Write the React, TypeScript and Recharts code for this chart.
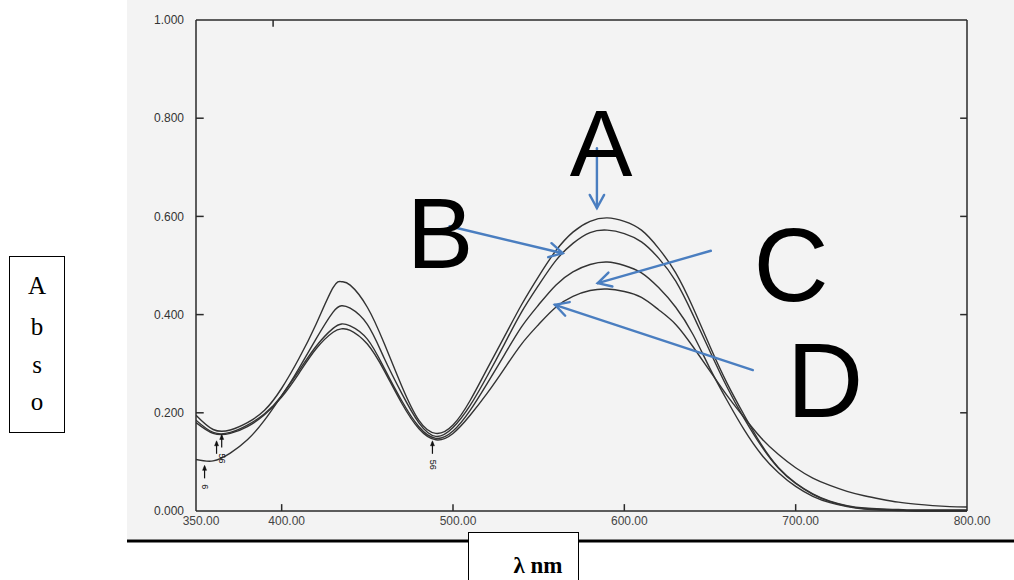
import React from 'react';
import { LineChart, Line, XAxis, YAxis, ReferenceLine } from 'recharts';

// wavelength (nm) and absorbance of the four spectra
const WAVELENGTH = [
  350, 360, 370, 380, 390, 400, 410, 420, 430, 435, 440, 450, 460, 470, 480, 490, 500, 510, 520, 530,
  540, 550, 560, 570, 580, 590, 600, 610, 620, 630, 640, 650, 660, 670, 680, 690, 700, 710, 720, 730,
  740, 750, 760, 770, 780, 790, 800,
];

const SERIES_A = [
  0.195, 0.166, 0.165, 0.18, 0.205, 0.25, 0.31, 0.38, 0.455, 0.467, 0.46, 0.415, 0.34, 0.255, 0.185, 0.158, 0.175, 0.225, 0.29, 0.355,
  0.42, 0.478, 0.53, 0.568, 0.59, 0.597, 0.59, 0.572, 0.535, 0.485, 0.415, 0.335, 0.26, 0.195, 0.135, 0.088, 0.057, 0.035, 0.02, 0.011,
  0.006, 0.004, 0.003, 0.002, 0.002, 0.002, 0.002,
];
const SERIES_B = [
  0.185, 0.16, 0.16, 0.175, 0.198, 0.235, 0.29, 0.35, 0.405, 0.418, 0.413, 0.38, 0.31, 0.24, 0.18, 0.152, 0.17, 0.215, 0.275, 0.34,
  0.405, 0.46, 0.51, 0.545, 0.567, 0.572, 0.565, 0.548, 0.515, 0.468, 0.4, 0.325, 0.252, 0.188, 0.132, 0.087, 0.056, 0.034, 0.019, 0.01,
  0.005, 0.003, 0.002, 0.001, 0.001, 0.001, 0.001,
];
const SERIES_C = [
  0.105, 0.102, 0.118, 0.145, 0.185, 0.235, 0.285, 0.335, 0.372, 0.381, 0.377, 0.35, 0.29, 0.225, 0.172, 0.148, 0.163, 0.205, 0.26, 0.318,
  0.375, 0.42, 0.46, 0.487, 0.502, 0.507, 0.5, 0.485, 0.455, 0.415, 0.36, 0.29, 0.225, 0.165, 0.115, 0.078, 0.05, 0.03, 0.017, 0.009,
  0.004, 0.002, 0.001, 0, 0, 0, 0,
];
const SERIES_D = [
  0.18, 0.158, 0.158, 0.172, 0.196, 0.232, 0.28, 0.33, 0.364, 0.371, 0.368, 0.34, 0.285, 0.22, 0.168, 0.145, 0.158, 0.195, 0.24, 0.29,
  0.34, 0.38, 0.415, 0.437, 0.449, 0.452, 0.447, 0.435, 0.41, 0.38, 0.335, 0.285, 0.235, 0.19, 0.148, 0.115, 0.088, 0.067, 0.052, 0.04,
  0.031, 0.024, 0.018, 0.014, 0.011, 0.009, 0.008,
];

const X_TICKS = [350, 400, 500, 600, 700, 800];
const Y_TICKS = [0, 0.2, 0.4, 0.6, 0.8, 1.0];

// blue annotation arrows, [from, to] in (nm, absorbance)
const ARROWS = [
  { name: 'A', from: [584, 0.739], to: [584, 0.617] },
  { name: 'B', from: [498, 0.58], to: [564, 0.525] },
  { name: 'C', from: [650.5, 0.53], to: [584.5, 0.464] },
  { name: 'D', from: [675, 0.287], to: [559.5, 0.42] },
];

// little instrument peak-pick marks near the minima: [nm, absorbance, label]
const PICKS: [number, number, string][] = [
  [355, 0.095, '6'],
  [362, 0.145, ''],
  [365, 0.158, '56'],
  [488, 0.145, '56'],
];

const data = WAVELENGTH.map((wl, i) => ({
  wl,
  a: SERIES_A[i],
  b: SERIES_B[i],
  c: SERIES_C[i],
  d: SERIES_D[i],
}));

const BLUE = '#4a7ec0';
const INK = '#2a2a2a';
const FONT = 'Liberation Sans, Arial, sans-serif';

function Arrow(props: any) {
  const { x1, y1, x2, y2 } = props;
  const ang = Math.atan2(y2 - y1, x2 - x1);
  const len = 15;
  const spread = 0.5;
  const ax = x2 - len * Math.cos(ang - spread);
  const ay = y2 - len * Math.sin(ang - spread);
  const bx = x2 - len * Math.cos(ang + spread);
  const by = y2 - len * Math.sin(ang + spread);
  return (
    <g stroke={BLUE} strokeWidth={2.4} fill="none" strokeLinecap="round">
      <line x1={x1} y1={y1} x2={x2} y2={y2} />
      <polyline points={`${ax},${ay} ${x2},${y2} ${bx},${by}`} />
    </g>
  );
}

function PickMark(props: any) {
  const { cx, cy, label } = props;
  return (
    <g stroke="#111" fill="#111">
      <line x1={cx} y1={cy + 14} x2={cx} y2={cy + 2} strokeWidth={1.2} />
      <path d={`M${cx - 2},${cy + 6} L${cx},${cy + 1} L${cx + 2},${cy + 6} Z`} strokeWidth={0.5} />
      {label ? (
        <text x={cx} y={cy + 20} fontSize={9} fontFamily={FONT} stroke="none" transform={`rotate(90 ${cx} ${cy + 20})`} dominantBaseline="middle">
          {label}
        </text>
      ) : null}
    </g>
  );
}

// short inward tick marks on all four sides of the frame
const tickSegs: { p: [number, number]; q: [number, number] }[] = [
  ...Y_TICKS.filter((v) => v > 0 && v < 1).map((v) => ({ p: [350, v] as [number, number], q: [354.5, v] as [number, number] })),
  ...Y_TICKS.filter((v) => v > 0 && v < 1).map((v) => ({ p: [800, v] as [number, number], q: [796, v] as [number, number] })),
  ...X_TICKS.filter((t) => t > 350 && t < 800).map((t) => ({ p: [t, 0] as [number, number], q: [t, 0.014] as [number, number] })),
  { p: [395, 1], q: [395, 0.986] },
];

const tickFont = { fontSize: 12, fill: '#333', fontFamily: FONT };

export default function App() {
  return (
    <div style={{ position: 'absolute', left: 0, top: 0, width: 1014, height: 580, background: '#fff', overflow: 'hidden' }}>
      <div style={{ position: 'absolute', left: 127, top: 0, width: 887, height: 539, background: '#f3f3f3' }} />
      <div style={{ position: 'absolute', left: 0, top: 0 }}>
        <LineChart width={1014} height={580} data={data} margin={{ top: 20, right: 47, left: 0, bottom: 39 }}>
          <XAxis
            dataKey="wl"
            type="number"
            domain={[350, 800]}
            ticks={X_TICKS}
            tickFormatter={(v: number) => v.toFixed(2)}
            tick={{ ...tickFont, fill: '#444', dx: 5 }}
            stroke={INK}
            strokeWidth={1.5}
            tickLine={false}
            tickSize={0}
            tickMargin={5}
            height={30}
            allowDataOverflow
          />
          <XAxis xAxisId="top" orientation="top" dataKey="wl" type="number" domain={[350, 800]} mirror tick={false} tickLine={false} stroke={INK} strokeWidth={1.5} />
          <YAxis
            type="number"
            domain={[0, 1]}
            ticks={Y_TICKS}
            tickFormatter={(v: number) => v.toFixed(3)}
            tick={tickFont}
            stroke={INK}
            strokeWidth={1.5}
            tickLine={false}
            tickSize={0}
            tickMargin={12}
            width={196}
          />
          <YAxis yAxisId="right" orientation="right" type="number" domain={[0, 1]} mirror tick={false} tickLine={false} stroke={INK} strokeWidth={1.5} />
          {tickSegs.map((s, i) => (
            <ReferenceLine
              key={`tick-${i}`}
              segment={[{ x: s.p[0], y: s.p[1] }, { x: s.q[0], y: s.q[1] }]}
              stroke={INK}
              strokeWidth={1.5}
              ifOverflow="visible"
            />
          ))}
          <Line dataKey="a" type="natural" stroke="#333" strokeWidth={1.4} dot={false} isAnimationActive={false} />
          <Line dataKey="b" type="natural" stroke="#333" strokeWidth={1.4} dot={false} isAnimationActive={false} />
          <Line dataKey="c" type="natural" stroke="#333" strokeWidth={1.4} dot={false} isAnimationActive={false} />
          <Line dataKey="d" type="natural" stroke="#333" strokeWidth={1.4} dot={false} isAnimationActive={false} />
          {ARROWS.map((ar) => (
            <ReferenceLine
              key={ar.name}
              segment={[{ x: ar.from[0], y: ar.from[1] }, { x: ar.to[0], y: ar.to[1] }]}
              shape={Arrow}
              ifOverflow="visible"
            />
          ))}
          {PICKS.map(([wl, v, label], i) => (
            <ReferenceLine
              key={`pick-${i}`}
              segment={[{ x: wl, y: v }, { x: wl, y: v }]}
              shape={(p: any) => <PickMark cx={p.x1} cy={p.y1} label={label} />}
              ifOverflow="visible"
            />
          ))}
        </LineChart>
      </div>
      <svg width={1014} height={580} style={{ position: 'absolute', left: 0, top: 0, pointerEvents: 'none' }}>
        <g fontFamily={FONT} fill="#000" textAnchor="middle">
          <text x={601} y={176} fontSize={94}>A</text>
          <text x={440} y={268} fontSize={100}>B</text>
          <text x={791} y={301} fontSize={104}>C</text>
          <text x={825} y={417} fontSize={106}>D</text>
        </g>
        <rect x={9.5} y={256.5} width={55} height={176} fill="#fff" stroke="#000" strokeWidth={1} />
        <g fontFamily="Liberation Serif, Times New Roman, serif" fontSize={25} textAnchor="middle" fill="#000">
          <text x={37} y={294}>A</text>
          <text x={37} y={335}>b</text>
          <text x={37} y={373}>s</text>
          <text x={37} y={410}>o</text>
        </g>
        <line x1={127} y1={541} x2={1014} y2={541} stroke="#000" strokeWidth={3} />
        <rect x={468.5} y={532.5} width={110} height={60} fill="#fff" stroke="#000" strokeWidth={1} />
        <text x={538} y={573} fontFamily="Liberation Serif, Times New Roman, serif" fontSize={23} fontWeight="bold" textAnchor="middle">λ nm</text>
      </svg>
    </div>
  );
}
